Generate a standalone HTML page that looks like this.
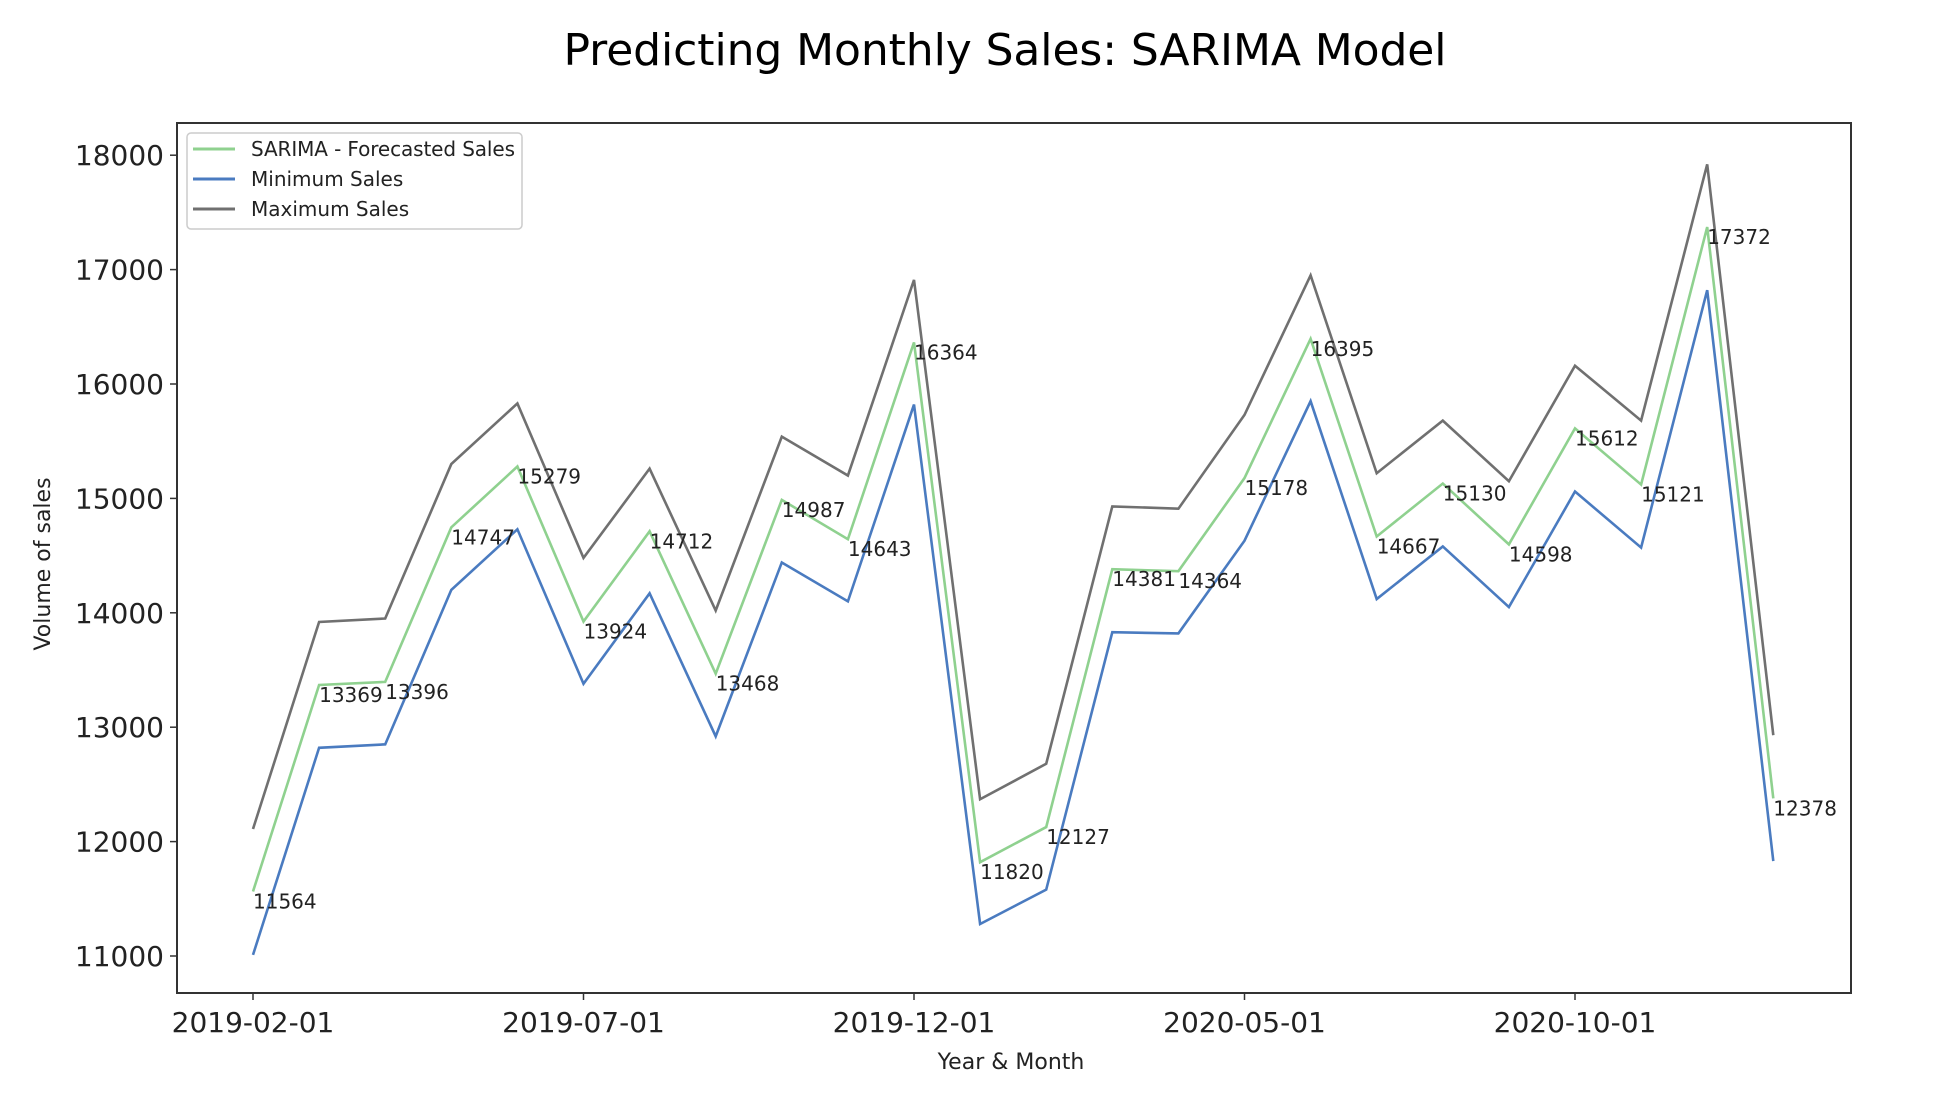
<!DOCTYPE html>
<html><head><meta charset="utf-8"><style>
body{margin:0;background:#fff;}
svg{display:block;font-family:"DejaVu Sans","Liberation Sans",sans-serif;}
</style></head><body>
<svg id="chart" width="1940" height="1094" viewBox="0 0 1940 1094">
<text x="1005" y="65" font-size="44" text-anchor="middle" textLength="883" fill="#000">Predicting Monthly Sales: SARIMA Model</text>
<text transform="translate(50,564) rotate(-90)" font-size="22" text-anchor="middle" fill="#222">Volume of sales</text>
<text x="1011" y="1069" font-size="22" text-anchor="middle" fill="#222">Year &amp; Month</text>
<g id="plot"></g>
<rect x="177" y="123" width="1674" height="870" fill="none" stroke="#333" stroke-width="2"/>
<g>
<rect x="187" y="133" width="335" height="96" rx="4" fill="#fff" fill-opacity="0.8" stroke="#ccc" stroke-width="1.5"/>
<line x1="193" y1="149" x2="235" y2="149" stroke="#8fd18f" stroke-width="3"/>
<text x="251" y="156" font-size="20" textLength="264" fill="#222">SARIMA - Forecasted Sales</text>
<line x1="193" y1="179" x2="235" y2="179" stroke="#4a7bc0" stroke-width="3"/>
<text x="251" y="186" font-size="20" fill="#222">Minimum Sales</text>
<line x1="193" y1="209" x2="235" y2="209" stroke="#707070" stroke-width="3"/>
<text x="251" y="216" font-size="20" fill="#222">Maximum Sales</text>
</g>
</svg>
<script>
const forecastSales=[11564,13369,13396,14747,15279,13924,14712,13468,14987,14643,16364,11820,12127,14381,14364,15178,16395,14667,15130,14598,15612,15121,17372,12378];
const minSales=[11010,12820,12850,14200,14730,13380,14170,12920,14440,14100,15820,11280,11580,13830,13820,14630,15850,14120,14580,14050,15060,14570,16820,11830];
const maxSales=[12110,13920,13950,15300,15830,14480,15260,14020,15540,15200,16910,12370,12680,14930,14910,15730,16950,15220,15680,15150,16160,15680,17920,12930];
const yTicks=[11000,12000,13000,14000,15000,16000,17000,18000];
const xTickIndex=[0,5,10,15,20];
const xTickLabels=["2019-02-01","2019-07-01","2019-12-01","2020-05-01","2020-10-01"];

const NS="http://www.w3.org/2000/svg";
const g=document.getElementById('plot');
function xs(i){return 253+i*66.1;}
function ys(v){return 956-(v-11000)*0.1144;}
function mk(tag,attrs){const e=document.createElementNS(NS,tag);for(const k in attrs)e.setAttribute(k,attrs[k]);g.appendChild(e);return e;}

yTicks.forEach(v=>{
  const t=mk('line',{x1:170,x2:177,y1:ys(v),y2:ys(v),stroke:'#333','stroke-width':1.5});
  
  
  const l=mk('text',{x:164,y:ys(v)+10,'font-size':28,'text-anchor':'end',fill:'#222'});
  l.textContent=v;
  
  
});
xTickIndex.forEach((i,k)=>{
  const t=mk('line',{x1:xs(i),x2:xs(i),y1:993,y2:1000,stroke:'#333','stroke-width':1.5});
  
  
  const l=mk('text',{x:xs(i),y:1032,'font-size':28,'text-anchor':'middle',fill:'#222'});
  l.textContent=xTickLabels[k];
  
  
});
function series(arr,color,name){
  const p=mk('polyline',{points:arr.map((v,i)=>xs(i)+','+ys(v)).join(' '),fill:'none',stroke:color,'stroke-width':2.6,'stroke-linejoin':'miter'});
  
  
}
series(forecastSales,'#8fd18f','forecast-line');
series(minSales,'#4a7bc0','min-sales-line');
series(maxSales,'#707070','max-sales-line');
forecastSales.forEach((v,i)=>{
  const l=mk('text',{x:xs(i),y:ys(v)+17,'font-size':20,fill:'#222'});
  l.textContent=v;
  
  
});
</script>
</body></html>
